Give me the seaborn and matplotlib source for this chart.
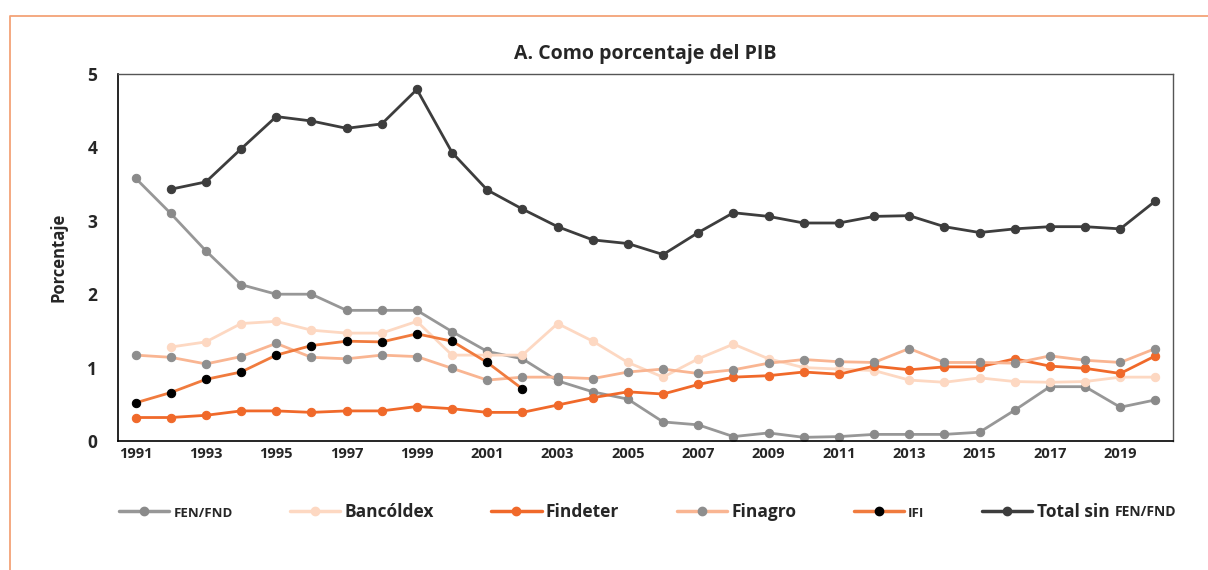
import numpy as np
import pandas as pd
import seaborn as sns
import matplotlib.pyplot as plt
from matplotlib.lines import Line2D

years = list(range(1991, 2021))
nan = np.nan

fen_fnd = [3.58, 3.10, 2.59, 2.13, 2.00, 2.00, 1.78, 1.78, 1.78, 1.49,
           1.22, 1.12, 0.82, 0.67, 0.57, 0.26, 0.22, 0.06, 0.11, 0.05,
           0.06, 0.09, 0.09, 0.09, 0.12, 0.42, 0.74, 0.74, 0.46, 0.56]
bancoldex = [nan, 1.28, 1.35, 1.60, 1.63, 1.51, 1.47, 1.47, 1.63, 1.17,
             1.17, 1.17, 1.60, 1.36, 1.07, 0.87, 1.12, 1.32, 1.12, 1.00,
             0.98, 0.96, 0.83, 0.80, 0.86, 0.81, 0.80, 0.81, 0.87, 0.87]
findeter = [0.32, 0.32, 0.35, 0.41, 0.41, 0.39, 0.41, 0.41, 0.47, 0.44,
            0.39, 0.39, 0.49, 0.59, 0.67, 0.64, 0.77, 0.87, 0.89, 0.94,
            0.91, 1.02, 0.97, 1.01, 1.01, 1.12, 1.02, 0.99, 0.92, 1.16]
finagro = [1.17, 1.14, 1.05, 1.15, 1.33, 1.14, 1.12, 1.17, 1.15, 0.99,
           0.83, 0.87, 0.87, 0.85, 0.94, 0.98, 0.92, 0.97, 1.06, 1.11,
           1.08, 1.07, 1.26, 1.07, 1.07, 1.06, 1.16, 1.10, 1.07, 1.26]
ifi = [0.52, 0.66, 0.84, 0.94, 1.17, 1.30, 1.36, 1.35, 1.46, 1.36,
       1.07, 0.71] + [nan] * 18
total = [nan, 3.43, 3.53, 3.98, 4.42, 4.36, 4.26, 4.32, 4.79, 3.93,
         3.42, 3.16, 2.92, 2.74, 2.69, 2.54, 2.84, 3.11, 3.06, 2.97,
         2.97, 3.06, 3.07, 2.92, 2.84, 2.89, 2.92, 2.92, 2.89, 3.27]

series = [
    ("FEN/FND", fen_fnd, "#979797", "#8a8a8a"),
    ("Bancóldex", bancoldex, "#fdd8c2", "#fdd8c2"),
    ("Findeter", findeter, "#f0692a", "#f0692a"),
    ("Finagro", finagro, "#f9b592", "#8e8e8e"),
    ("IFI", ifi, "#f07b3e", "#000000"),
    ("Total sin FEN/FND", total, "#3d3d3d", "#3d3d3d"),
]

sns.set_theme(style="white")
plt.rcParams['font.family'] = ['Open Sans', 'DejaVu Sans']

fig = plt.figure(figsize=(12.08, 5.70), dpi=100)
ax = fig.add_axes([118 / 1208, 1 - 441 / 570, (1173 - 118) / 1208, (441 - 74) / 570])

handles = []
for name, vals, lc, mc in series:
    df = pd.DataFrame({"year": years, "valor": vals}).dropna()
    sns.lineplot(data=df, x="year", y="valor", ax=ax, color=lc, linewidth=2.0,
                 marker="o", markersize=6, markerfacecolor=mc, markeredgecolor=mc)
    handles.append(Line2D([], [], color=lc, linewidth=2.5, marker="o", markersize=6,
                          markerfacecolor=mc, markeredgecolor=mc))

ax.set_xlim(1990.5, 2020.5)
ax.set_ylim(0, 5)
ax.set_xticks(range(1991, 2021, 2))
ax.set_yticks(range(0, 6))
ax.tick_params(axis="x", labelsize=10.5, pad=4, length=0)
ax.tick_params(axis="y", labelsize=12.5, pad=15, length=0)
for lab in ax.get_xticklabels() + ax.get_yticklabels():
    lab.set_fontweight("bold")
ax.set_xlabel("")
ax.set_ylabel("Porcentaje", fontsize=12, fontweight="bold", labelpad=14)
ax.set_title("A. Como porcentaje del PIB", fontsize=14, fontweight="bold", pad=11)
for side in ["left", "bottom"]:
    ax.spines[side].set_color("#000000")
    ax.spines[side].set_linewidth(1.2)
for side in ["top", "right"]:
    ax.spines[side].set_color("#555555")
    ax.spines[side].set_linewidth(1.0)

# la última etiqueta lleva "FEN/FND" en letra menor, añadida aparte
labels = ["FEN/FND", "Bancóldex", "Findeter", "Finagro", "IFI", "Total sin"]
leg = fig.legend(handles, labels, loc="center", ncol=6,
                 bbox_to_anchor=(614 / 1208, 1 - 512 / 570), frameon=False,
                 handlelength=2.9, columnspacing=3.3, handletextpad=0.25,
                 prop={"weight": "bold", "size": 12.5})
for txt, size in zip(leg.get_texts(), [9.5, 12.5, 12.5, 12.5, 9.5, 12.5]):
    txt.set_fontsize(size)

fig.canvas.draw()
bb = leg.get_texts()[-1].get_window_extent()
fig.text(bb.x1 + 5, bb.y0 + 2, "FEN/FND", transform=None,
         fontsize=10, fontweight="bold", va="bottom", ha="left")

# marco naranja del recuadro
fig.add_artist(Line2D([10 / 1208, 10 / 1208, 1.0], [0.0, 1 - 16 / 570, 1 - 16 / 570],
                      transform=fig.transFigure, color="#f3a277", linewidth=1.3))

fig.savefig("out.png", dpi=100)
